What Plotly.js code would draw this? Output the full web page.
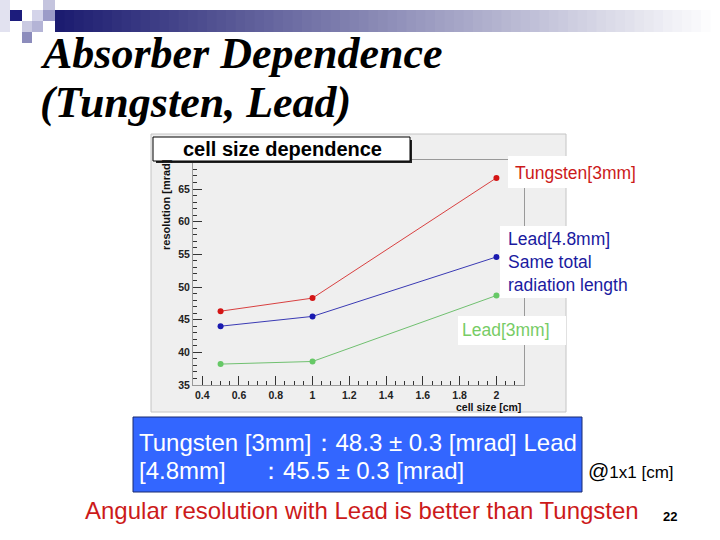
<!DOCTYPE html>
<html>
<head>
<meta charset="utf-8">
<script src="https://cdn.plot.ly/plotly-3.0.1.min.js"></script>
<style>html,body{margin:0;padding:0;background:#fff;}</style>
</head>
<body>
<div id="chart" style="width:720px;height:540px;"></div>
<script>
// ---- data ----
const cellSize   = [0.5, 1, 2];
const tungsten3  = [46.3, 48.3, 66.7];
const lead48     = [44.0, 45.5, 54.6];
const lead3      = [38.2, 38.6, 48.7];
const seriesNames = ['Tungsten[3mm]', 'Lead[4.8mm]', 'Lead[3mm]'];

// ---- pixel -> paper helpers (plot area 193..524 x 160..385) ----
const L = 193, R = 524, T = 160, B = 385;
const X = p => (p - L) / (R - L);
const Y = p => (B - p) / (B - T);

const SANS = 'Liberation Sans, Arial, sans-serif';

const traces = [
  {x: cellSize, y: tungsten3, name: seriesNames[0], mode: 'lines+markers',
   line: {color: '#d84040', width: 1}, marker: {color: '#d41515', size: 6}},
  {x: cellSize, y: lead48, name: seriesNames[1], mode: 'lines+markers',
   line: {color: '#3a3ab4', width: 1}, marker: {color: '#1a1ab0', size: 6}},
  {x: cellSize, y: lead3, name: seriesNames[2], mode: 'lines+markers',
   line: {color: '#70c070', width: 1}, marker: {color: '#66c866', size: 6}}
];

const shapes = [];
function rect(x0, y0, x1, y1, fill, line, lw, layer) {
  shapes.push({type: 'rect', xref: 'paper', yref: 'paper',
    x0: X(x0), x1: X(x1), y0: Y(y1), y1: Y(y0),
    fillcolor: fill, line: {color: line || fill, width: lw === undefined ? 0 : lw},
    layer: layer || 'below'});
}
// slide header gradient bar (decoration)
const barStart = 55, barEnd = 720, nStrips = 70;
for (let i = 0; i < nStrips; i++) {
  const t = i / (nStrips - 1);
  const r = Math.round(28 + (255 - 28) * t), g = Math.round(28 + (255 - 28) * t), b = Math.round(112 + (255 - 112) * t);
  const x0 = barStart + (barEnd - barStart) * i / nStrips;
  const x1 = barStart + (barEnd - barStart) * (i + 1) / nStrips + 0.5;
  rect(x0, 10, x1, 32, `rgb(${r},${g},${b})`);
}
// header squares
rect(0, 0, 10, 32, '#e2e2f0');
rect(10, 10, 22, 21, '#1c1c7c');
rect(43, 0, 55, 10, '#c4c4de');
rect(32, 10, 43, 21, '#d4d4ea');
rect(43, 10, 55, 21, '#9c9cc8');
rect(22, 21, 32, 32, '#cacae2');
rect(32, 21, 43, 32, '#b4b4d6');
rect(22, 32, 32, 43, '#8c8cbc');

// ROOT canvas
rect(151, 134, 566, 412, '#efefef', '#c4c4c4', 1, 'below');
// title box with shadow
rect(156, 140, 412, 163, '#222222', '#222222', 0, 'above');
rect(153, 137, 410, 161, '#ffffff', '#000000', 1, 'above');
// white label boxes
rect(508, 156, 641, 188, '#ffffff', null, 0, 'above');
rect(500, 226, 636, 298, '#ffffff', null, 0, 'above');
rect(458, 316, 566, 345, '#ffffff', null, 0, 'above');
// blue summary box
rect(133, 417, 582, 492, '#3366ff', '#1a2a70', 1, 'above');

const annotations = [];
function txt(text, x, y, size, color, opts) {
  annotations.push(Object.assign({
    text: text, xref: 'paper', yref: 'paper', x: X(x), y: Y(y),
    xanchor: 'left', yanchor: 'middle', showarrow: false,
    font: {family: SANS, size: size, color: color}, align: 'left'
  }, opts || {}));
}
const SERIF = 'Liberation Serif, Times New Roman, serif';
txt('<b><i>Absorber Dependence</i></b>', 38, 53, 44, '#000', {font: {family: SERIF, size: 44, color: '#000'}});
txt('<b><i>(Tungsten, Lead)</i></b>', 38, 103, 44, '#000', {font: {family: SERIF, size: 44, color: '#000'}});

txt('<b>cell size dependence</b>', 282, 149, 20, '#000', {xanchor: 'center'});
txt('<b>resolution [mrad]</b>', 166, 205, 11, '#111', {xanchor: 'center', textangle: -90});
txt('<b>cell size [cm]</b>', 523, 406.5, 10.5, '#111', {xanchor: 'right'});

txt(seriesNames[0], 513, 173, 17.5, '#cc1a1a');
txt(seriesNames[1] + '<br>Same total<br>radiation length', 506, 262, 17.5, '#1a1aa0');
txt(seriesNames[2], 460, 330, 17.5, '#77cc66');

txt('Tungsten [3mm]\uff1a48.3 \u00b1 0.3 [mrad] Lead', 137, 442, 24, '#ffffff');
txt('[4.8mm]\u00a0\u00a0\u00a0\u00a0\u00a0\uff1a45.5 \u00b1 0.3 [mrad]', 137, 470, 24, '#ffffff');
// cover text overflowing the blue box
annotations.push({text: '\u00a0', xref: 'paper', yref: 'paper', x: X(583), y: Y(442),
  xanchor: 'left', yanchor: 'middle', showarrow: false, bgcolor: '#ffffff',
  width: 60, height: 34, borderpad: 0, font: {size: 10}});
txt('<span style="font-size:21px">@</span>1x1 [cm]', 586, 470, 17, '#000');
txt('Angular resolution with Lead is better than Tungsten', 83, 510, 24, '#cc1a1a');
txt('<b>22</b>', 661, 516, 13, '#000');

const axisFont = {family: SANS, size: 10.5, color: '#222', weight: 'bold'};
const layout = {
  width: 720, height: 540,
  margin: {l: L, r: 720 - R, t: T, b: 540 - B, pad: 0},
  paper_bgcolor: '#ffffff', plot_bgcolor: '#efefef',
  showlegend: false,
  xaxis: {range: [0.35, 2.15], tick0: 0.4, dtick: 0.2, ticks: 'inside', ticklen: 9,
    tickcolor: '#333', tickwidth: 1, showline: true, linecolor: '#999', linewidth: 1, mirror: true,
    showgrid: false, zeroline: false, tickfont: axisFont,
    minor: {dtick: 0.05, ticks: 'inside', ticklen: 4, tickcolor: '#333', showgrid: false}},
  yaxis: {range: [35, 69.44], tick0: 35, dtick: 5, ticks: 'inside', ticklen: 9,
    tickcolor: '#333', tickwidth: 1, showline: true, linecolor: '#999', linewidth: 1, mirror: true,
    showgrid: false, zeroline: false, tickfont: axisFont,
    minor: {dtick: 1, ticks: 'inside', ticklen: 4, tickcolor: '#333', showgrid: false}},
  shapes: shapes,
  annotations: annotations
};
Plotly.newPlot('chart', traces, layout, {staticPlot: true, displayModeBar: false});
</script>
</body>
</html>
